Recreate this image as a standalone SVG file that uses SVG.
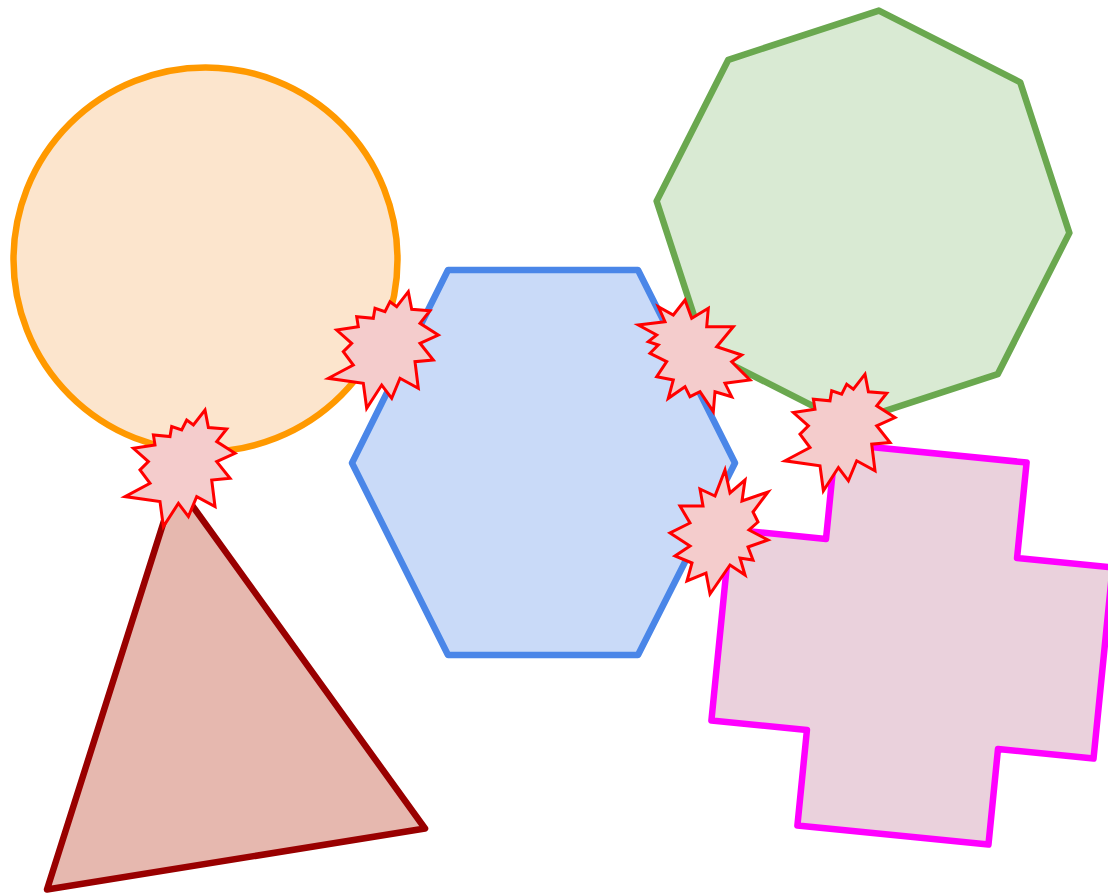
<svg xmlns="http://www.w3.org/2000/svg" width="1108" height="895" viewBox="0 0 1108 895">
  <style>
    .shape { stroke-width: 6.5; stroke-linejoin: round; }
    .burst { fill: #F4CCCC; stroke: #FF0000; stroke-width: 3; stroke-linejoin: miter; stroke-miterlimit: 10; }
  </style>
  <defs>
    <path id="burstA" d="M25.3,-58.3 L28.7,-40.7 L47,-39.3 L37,-26.7 L55.3,-15 L37,-6.7 L50.3,10 L32,11.7 L35.3,38.3 L17,28.3 L8.7,48.3 L-1.3,35 L-16.3,58.3 L-19.7,33.3 L-54.7,28.3 L-29.7,15 L-39.7,1.7 L-31.3,-6.7 L-46.3,-20 L-24.7,-23.3 L-26.3,-33.3 L-9.7,-31.7 L-8,-41.7 L2,-38.3 L7,-48.3 L13.7,-43.3 Z"/>
  </defs>
  <rect width="1108" height="895" fill="#FFFFFF"/>

  <g id="circle">
    <circle class="shape" cx="205.5" cy="259.5" r="192" fill="#FCE5CD" stroke="#FF9900"/>
  </g>
  <g id="hexagon">
    <polygon class="shape" points="448,270 638,270 735,463 638,655 448,655 352,463" fill="#C9DAF8" stroke="#4A86E8"/>
  </g>
  <g id="octagon">
    <polygon class="shape" points="878.9,10.6 1020.2,82.3 1069.4,232.9 997.7,374.2 847.1,423.4 705.8,351.7 656.6,201.1 728.3,59.8" fill="#D9EAD3" stroke="#6AA84F"/>
  </g>
  <g id="triangle">
    <polygon class="shape" points="176,483 425,828.5 47,889.5" fill="#E6B8AF" stroke="#990000"/>
  </g>
  <g id="cross">
    <polygon class="shape" transform="translate(912,644) rotate(5.7)" points="-96,-192 96,-192 96,-96 192,-96 192,96 96,96 96,192 -96,192 -96,96 -192,96 -192,-96 -96,-96" fill="#EAD1DC" stroke="#FF00FF"/>
  </g>

  <g id="burst-circle-hexagon">
    <use href="#burstA" class="burst" transform="translate(383,350)"/>
  </g>
  <g id="burst-circle-triangle">
    <use href="#burstA" class="burst" transform="translate(179.7,468.3)"/>
  </g>
  <g id="burst-hexagon-octagon">
    <polygon class="burst" points="685,300 691.7,318.3 708.3,308.3 706.7,326.7 733.3,326.7 716.7,346.7 741.7,355 731.7,361.7 750,380 725,383.3 731.7,396.7 715,391.7 713.3,411.7 700,391.7 690,396.7 685,386.7 668.3,398.3 673.3,380 656.7,376.7 666.7,361.7 650,353.3 658.3,345 648.3,341.7 656.7,335 638.3,325 665,321.7 658.3,306.7 673.3,315"/>
  </g>
  <g id="burst-octagon-cross">
    <use href="#burstA" class="burst" transform="translate(839.7,432.5)"/>
  </g>
  <g id="burst-hexagon-cross">
    <polygon class="burst" points="725,470 730,493 745,480 742,501 768,492 753,512 758,522 749,530 768,540 748,547 753,560 740,558 745,575 730,565 710,594 706,573 687,581 692,563 675,556 690,546 670,533 690,523 680,506 703,506 700,489 715,496"/>
  </g>
</svg>
